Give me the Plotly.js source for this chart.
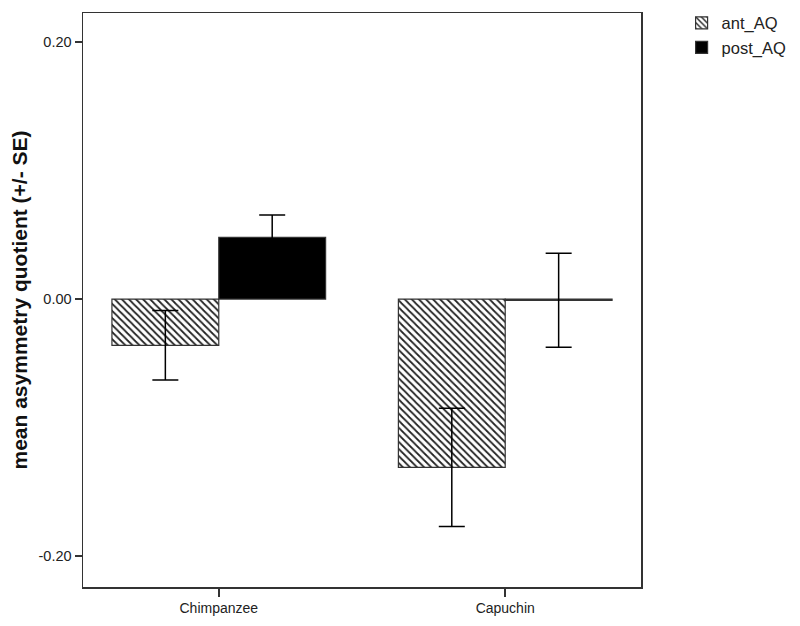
<!DOCTYPE html>
<html>
<head>
<meta charset="utf-8">
<script src="https://cdn.plot.ly/plotly-3.0.1.min.js"></script>
<style>
  html, body { margin: 0; padding: 0; background: #fff; }
  #chart { width: 800px; height: 626px; }
</style>
</head>
<body>
<div id="chart"></div>
<script>
'use strict';

const species   = ['Chimpanzee', 'Capuchin'];
const antMean   = [-0.036, -0.131];
const antSE     = [0.027, 0.046];
const postMean  = [0.048, -0.001];
const postSE    = [0.0174, 0.0366];
const yTickVals = [-0.2, 0, 0.2];
const yTickText = ['-0.20', '0.00', '0.20'];

const font = 'Arial, "Liberation Sans", sans-serif';
const errStyle = { type: 'data', visible: true, color: '#000', thickness: 1.5, width: 13 };

const traces = [
  {
    type: 'bar',
    name: 'ant_AQ',
    x: species,
    y: antMean,
    error_y: Object.assign({ array: antSE }, errStyle),
    marker: {
      color: '#fff',
      pattern: { shape: '\\', fgcolor: '#222', bgcolor: '#fff', size: 5, solidity: 0.35 },
      line: { color: '#333', width: 1.2 }
    }
  },
  {
    type: 'bar',
    name: 'post_AQ',
    x: species,
    y: postMean,
    error_y: Object.assign({ array: postSE }, errStyle),
    marker: { color: '#000', line: { color: '#333', width: 1.2 } }
  }
];

const layout = {
  width: 800,
  height: 626,
  paper_bgcolor: '#fff',
  plot_bgcolor: '#fff',
  font: { family: font, color: '#222', size: 14 },
  margin: { l: 83, r: 159, t: 13, b: 39 },
  barmode: 'group',
  bargap: 0.254,
  bargroupgap: 0,
  showlegend: true,
  legend: {
    xref: 'container', yref: 'container',
    x: 0.852, y: 0.991, xanchor: 'left', yanchor: 'top',
    font: { size: 16.5, color: '#222' },
    tracegroupgap: 0, itemwidth: 30,
    bgcolor: 'rgba(0,0,0,0)'
  },
  xaxis: {
    type: 'category',
    range: [-0.474, 1.474],
    showgrid: false, zeroline: false,
    showline: true, mirror: true, linecolor: '#333', linewidth: 1.5,
    ticks: 'outside', ticklen: 8, tickcolor: '#333', tickwidth: 1.5,
    tickfont: { size: 14 }
  },
  yaxis: {
    range: [-0.2241, 0.2226],
    tickvals: yTickVals,
    ticktext: yTickText,
    showgrid: false, zeroline: false,
    showline: true, mirror: true, linecolor: '#333', linewidth: 1.5,
    ticks: 'outside', ticklen: 7, tickcolor: '#333', tickwidth: 1.5,
    tickfont: { size: 14.5 },
    title: {
      text: '<b>mean asymmetry quotient (+/- SE)</b>',
      font: { size: 21, color: '#111' },
      standoff: 5
    }
  }
};

Plotly.newPlot('chart', traces, layout, { displayModeBar: false, staticPlot: true });
</script>
</body>
</html>
